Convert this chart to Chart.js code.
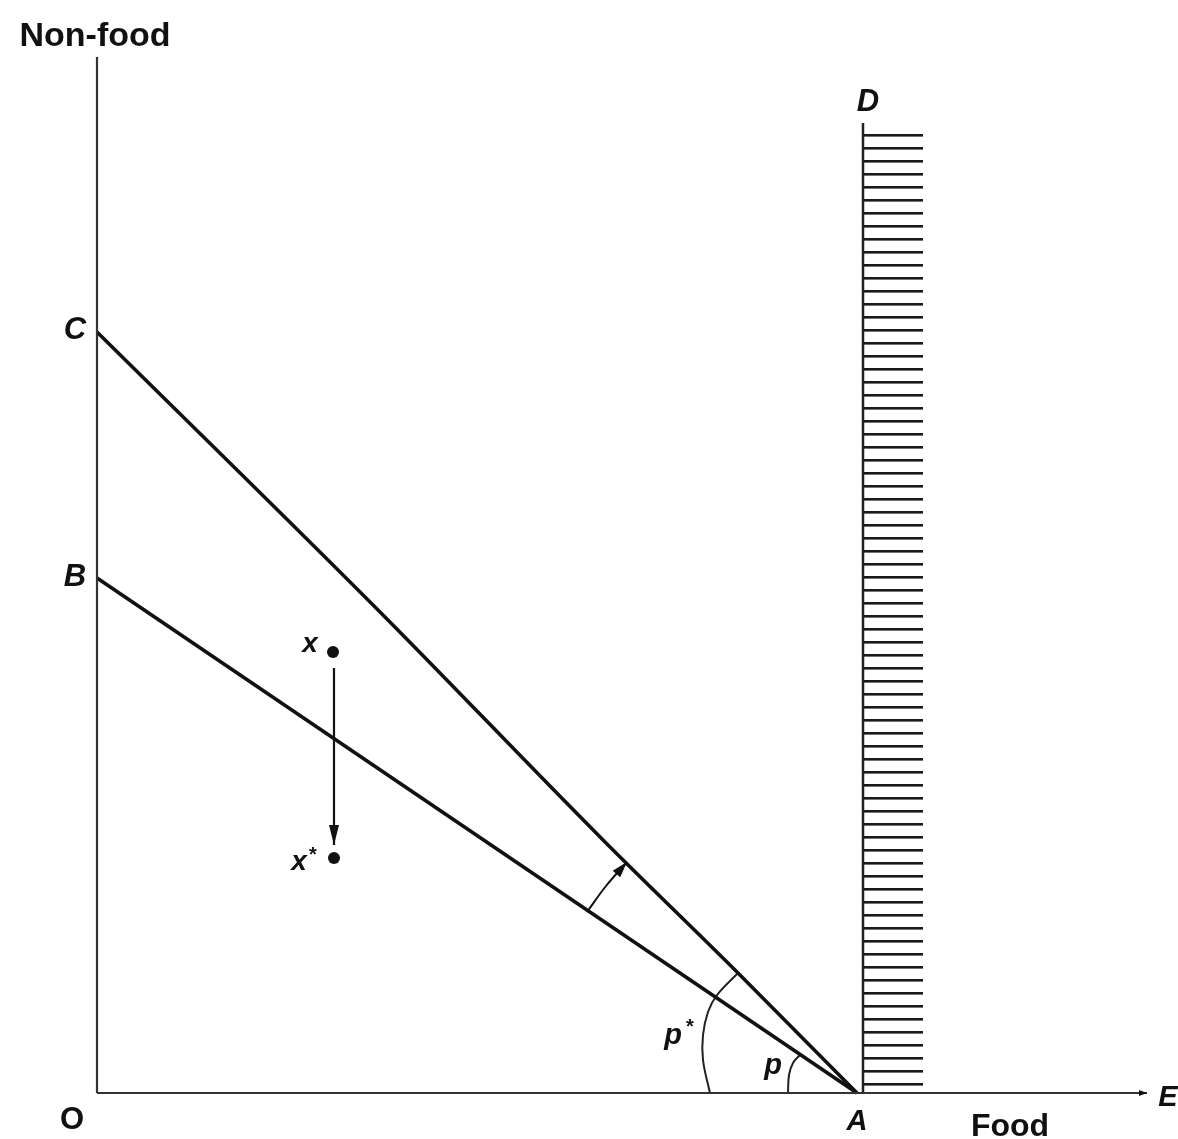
<!DOCTYPE html>
<html>
<head>
<meta charset="utf-8">
<script src="https://cdn.jsdelivr.net/npm/chart.js@4.4.0/dist/chart.umd.min.js"></script>
<style>
html,body{margin:0;padding:0;background:#fff;}
#c{display:block;}
</style>
</head>
<body>
<canvas id="c" width="1178" height="1139"></canvas>
<script>
// ---- diagram data (units: food on x, non-food on y) ----
const axisX = [{x:0,y:0},{x:1050,y:0}];          // O -> E
const axisY = [{x:0,y:0},{x:0,y:1036}];          // O -> Non-food
const curveCA = [{x:0,y:761},{x:283,y:481},{x:508,y:251},{x:641,y:120},{x:760,y:0}];
const lineBA = [{x:0,y:515},{x:760,y:0}];
const lineAD = [{x:766,y:0},{x:766,y:970}];
const hatchTop = [{x:766,y:963},{x:826,y:963}];
const shiftArc = [{x:490,y:181},{x:509,y:207},{x:530,y:231}];
const arcPstar = [{x:613,y:0},{x:606,y:33},{x:606,y:58},{x:611,y:81},{x:620,y:98},{x:641,y:120}];
const arcP = [{x:691,y:0},{x:692,y:18},{x:696,y:30},{x:703,y:38}];
const pointsX = [{x:236,y:441},{x:237,y:235}];
const moveArrow = [{x:237,y:425},{x:237,y:248}];
const labels = [
  {t:'Non-food', x:-2,  y:1056, f:'bold 34px "Liberation Sans"'},
  {t:'C',        x:-22, y:763,  f:'bold italic 31px "Liberation Sans"'},
  {t:'B',        x:-22, y:516,  f:'bold italic 31px "Liberation Sans"'},
  {t:'O',        x:-25, y:-27,  f:'bold 31px "Liberation Sans"'},
  {t:'A',        x:760, y:-29,  f:'bold italic 29px "Liberation Sans"'},
  {t:'E',        x:1071,y:-5,   f:'bold italic 29px "Liberation Sans"'},
  {t:'Food',     x:913, y:-34,  f:'bold 32px "Liberation Sans"'},
  {t:'D',        x:771, y:991,  f:'bold italic 31px "Liberation Sans"'},
  {t:'x',        x:213, y:449,  f:'bold italic 28px "Liberation Sans"'},
  {t:'x',        x:202, y:231,  f:'bold italic 28px "Liberation Sans"'},
  {t:'*',        x:216, y:238,  f:'bold 20px "Liberation Sans"'},
  {t:'p',        x:576, y:57,   f:'bold italic 29px "Liberation Sans"'},
  {t:'*',        x:593, y:66,   f:'bold 20px "Liberation Sans"'},
  {t:'p',        x:676, y:27,   f:'bold italic 29px "Liberation Sans"'}
];

// hatch pattern (styling)
const pc = document.createElement('canvas');
pc.width = 20; pc.height = 13;
const pctx = pc.getContext('2d');
pctx.fillStyle = '#1a1a1a';
pctx.fillRect(0, 4, 20, 2.6);
const hatch = document.getElementById('c').getContext('2d').createPattern(pc, 'repeat');

function ds(data, w, color, extra) {
  return Object.assign({data, showLine:true, borderColor:color, borderWidth:w, pointRadius:0, fill:false, tension:0, clip:false}, extra || {});
}

const arrowPlugin = {
  id:'arrows',
  afterDatasetsDraw(chart){
    const ctx = chart.ctx;
    chart.data.datasets.forEach((d, i) => {
      if (!d.arrow) return;
      const meta = chart.getDatasetMeta(i);
      const pts = meta.data;
      const p1 = pts[pts.length-2], p2 = pts[pts.length-1];
      const ang = Math.atan2(p2.y - p1.y, p2.x - p1.x);
      const L = d.arrow.len, W = d.arrow.wid;
      ctx.save();
      ctx.fillStyle = '#111';
      ctx.beginPath();
      ctx.moveTo(p2.x, p2.y);
      ctx.lineTo(p2.x - L*Math.cos(ang) + W*Math.sin(ang), p2.y - L*Math.sin(ang) - W*Math.cos(ang));
      ctx.lineTo(p2.x - L*Math.cos(ang) - W*Math.sin(ang), p2.y - L*Math.sin(ang) + W*Math.cos(ang));
      ctx.closePath();
      ctx.fill();
      ctx.restore();
    });
  }
};

const labelPlugin = {
  id:'labels',
  afterDraw(chart){
    const ctx = chart.ctx, sx = chart.scales.x, sy = chart.scales.y;
    ctx.save();
    ctx.fillStyle = '#111';
    ctx.textAlign = 'center';
    ctx.textBaseline = 'middle';
    labels.forEach(l => {
      ctx.font = l.f;
      ctx.fillText(l.t, sx.getPixelForValue(l.x), sy.getPixelForValue(l.y));
    });
    ctx.restore();
  }
};

new Chart(document.getElementById('c'), {
  type:'scatter',
  data:{datasets:[
    ds(hatchTop, 0, 'rgba(0,0,0,0)', {fill:'origin', backgroundColor:hatch}),
    ds(axisY, 2.2, '#333'),
    ds(axisX, 2.2, '#333', {arrow:{len:8, wid:3}}),
    ds(lineAD, 2.5, '#222'),
    ds(curveCA, 3.6, '#111', {cubicInterpolationMode:'monotone'}),
    ds(lineBA, 3.6, '#111'),
    ds(shiftArc, 2, '#111', {tension:0.4, arrow:{len:16, wid:5}}),
    ds(arcPstar, 2, '#222', {tension:0.4}),
    ds(arcP, 2, '#222', {tension:0.4}),
    ds(moveArrow, 2.2, '#111', {arrow:{len:20, wid:5}}),
    {data:pointsX, showLine:false, pointRadius:6, pointBackgroundColor:'#111', pointBorderWidth:0, clip:false}
  ]},
  options:{
    responsive:false,
    animation:false,
    devicePixelRatio:1,
    layout:{padding:{left:97, top:57, right:30, bottom:46}},
    scales:{
      x:{type:'linear', min:0, max:1051, display:false},
      y:{type:'linear', min:0, max:1036, display:false}
    },
    plugins:{legend:{display:false}, tooltip:{enabled:false}}
  },
  plugins:[arrowPlugin, labelPlugin]
});
</script>
</body>
</html>
